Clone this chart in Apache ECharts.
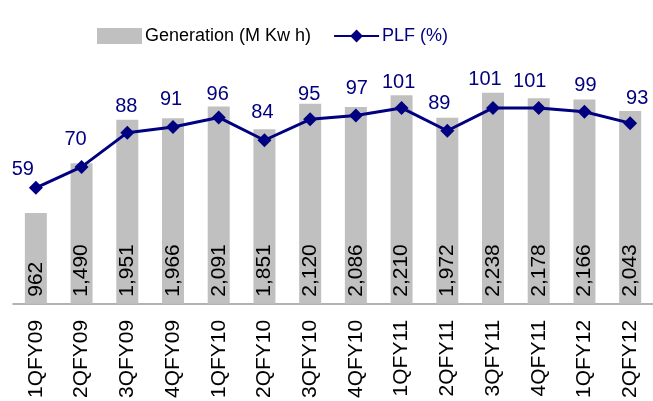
<!DOCTYPE html>
<html><head><meta charset="utf-8">
<script src="https://cdn.jsdelivr.net/npm/echarts@6/dist/echarts.min.js"></script>
<style>html,body{margin:0;padding:0;background:#fff}#c{width:653px;height:401px}</style>
</head><body><div id="c"></div>
<script>
const categories = ['1QFY09','2QFY09','3QFY09','4QFY09','1QFY10','2QFY10','3QFY10','4QFY10','1QFY11','2QFY11','3QFY11','4QFY11','1QFY12','2QFY12'];
const generation = [962,1490,1951,1966,2091,1851,2120,2086,2210,1972,2238,2178,2166,2043];
const plf = [59,70,88,91,96,84,95,97,101,89,101,101,99,93];
// small manual nudges of the PLF value labels (as placed in the original)
const plfLabelNudge = [[-13,8],[-6,-1],[-1,0],[-2,-1],[-1,3],[-2,-2],[-1,1],[1,-1],[-3,1],[-8,-1],[-8,-2],[-9,0],[1,0],[7,1]];
const FONT = '"Liberation Sans", Arial, sans-serif';
const chart = echarts.init(document.getElementById('c'), null, {renderer:'canvas'});
function fmt(v){return String(v).replace(/\B(?=(\d{3})+(?!\d))/g, ',');}
chart.setOption({
  animation:false,
  textStyle:{fontFamily:FONT},
  legend:{
    top:22, left:92, itemGap:22, itemWidth:45, itemHeight:16,
    textStyle:{fontFamily:FONT, fontSize:18, color:'#000', padding:[0,0,0,-2]},
    data:[
      {name:'Generation (M Kw h)', icon:'rect'},
      {name:'PLF (%)', textStyle:{color:'#000080'}}
    ]
  },
  grid:{left:13, right:-5, top:68, bottom:97},
  xAxis:{
    type:'category', data:categories,
    axisLine:{lineStyle:{color:'#999', width:1.5}},
    axisTick:{show:false},
    axisLabel:{rotate:90, fontSize:21, color:'#000', margin:16, fontFamily:FONT, interval:0}
  },
  yAxis:[
    {type:'value', min:0, max:2500, show:false, splitLine:{show:false}},
    {type:'value', min:-2, max:122, show:false, splitLine:{show:false}}
  ],
  series:[
    {
      name:'Generation (M Kw h)', type:'bar', data:generation, yAxisIndex:0,
      barWidth:22, itemStyle:{color:'#c0c0c0'},
      label:{show:true, position:'insideBottom', rotate:90, align:'left', verticalAlign:'middle',
        distance:7, fontSize:21, color:'#000', fontFamily:FONT, formatter:p=>fmt(p.value)}
    },
    {
      name:'PLF (%)', type:'line', yAxisIndex:1,
      data:plf.map((v,i)=>({value:v, label:{offset:[plfLabelNudge[i][0], plfLabelNudge[i][1]]}})),
      symbol:'diamond', symbolSize:14, lineStyle:{color:'#000080', width:3},
      itemStyle:{color:'#000080'},
      label:{show:true, position:'top', distance:9, fontSize:20, color:'#000080', fontFamily:FONT}
    }
  ]
});
</script></body></html>
